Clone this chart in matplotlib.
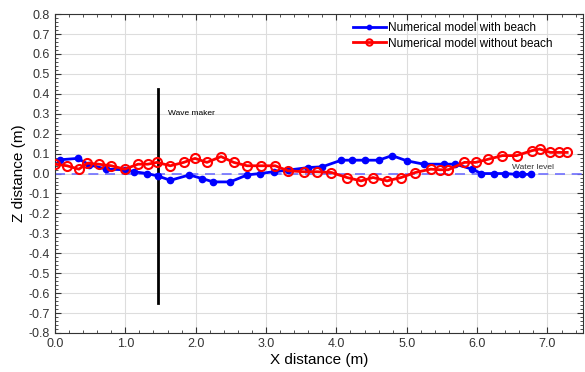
import matplotlib
matplotlib.use("Agg")
import matplotlib.pyplot as plt
from matplotlib.ticker import MultipleLocator, FormatStrFormatter

plt.rcParams['font.family'] = ['Liberation Sans', 'DejaVu Sans']

beach_x = [0.07, 0.32, 0.49, 0.73, 1.0, 1.13, 1.31, 1.46, 1.64, 1.91, 2.09, 2.25, 2.49, 2.73,
           2.91, 3.11, 3.31, 3.6, 3.8, 4.07, 4.22, 4.41, 4.6, 4.79, 5.0, 5.24, 5.53, 5.69,
           5.93, 6.06, 6.24, 6.4, 6.55, 6.64, 6.76]
beach_z = [0.069, 0.076, 0.044, 0.022, 0.019, 0.009, 0.0, -0.012, -0.034, -0.007, -0.025,
           -0.042, -0.042, -0.007, 0.0, 0.009, 0.017, 0.03, 0.034, 0.067, 0.067, 0.067,
           0.067, 0.09, 0.064, 0.047, 0.047, 0.047, 0.022, 0.0, 0.0, 0.0, -0.004, -0.004, -0.004]

nobeach_x = [0.0, 0.17, 0.34, 0.46, 0.62, 0.8, 0.99, 1.18, 1.32, 1.45, 1.64, 1.83, 1.99, 2.16,
             2.36, 2.54, 2.73, 2.93, 3.13, 3.31, 3.54, 3.73, 3.93, 4.15, 4.35, 4.52, 4.72,
             4.92, 5.12, 5.34, 5.47, 5.59, 5.82, 5.98, 6.16, 6.36, 6.56, 6.78, 6.89, 7.04,
             7.17, 7.28]
nobeach_z = [0.047, 0.039, 0.022, 0.052, 0.047, 0.039, 0.022, 0.047, 0.047, 0.056, 0.039,
             0.056, 0.076, 0.056, 0.085, 0.056, 0.039, 0.039, 0.039, 0.014, 0.009, 0.009,
             0.005, -0.02, -0.037, -0.02, -0.037, -0.02, 0.005, 0.022, 0.019, 0.019, 0.056,
             0.056, 0.072, 0.09, 0.09, 0.115, 0.123, 0.106, 0.106, 0.106]

wavemaker_x = 1.46
wavemaker_z = [0.425, -0.65]
water_level = 0.0

fig = plt.figure(figsize=(5.85, 3.72), dpi=100)
ax = fig.add_axes([0.094, 0.105, 0.902, 0.857])

ax.axhline(water_level, color='#6f6fff', linestyle=(0, (6, 4)), linewidth=1.2, zorder=2)
ax.plot([wavemaker_x, wavemaker_x], wavemaker_z, color='black', linewidth=2, zorder=3)
ax.plot(beach_x, beach_z, color='blue', marker='o', markersize=4.5, linewidth=2,
        label='Numerical model with beach', zorder=4)
ax.plot(nobeach_x, nobeach_z, color='red', marker='o', markersize=6.5, markerfacecolor='none',
        markeredgewidth=1.5, linewidth=2, label='Numerical model without beach', zorder=5)

ax.text(1.6, 0.3, 'Wave maker', fontsize=6, ha='left', va='center')
ax.text(6.5, 0.03, 'Water level', fontsize=6, ha='left', va='center', color='#333333')

ax.set_xlim(0, 7.5)
ax.set_ylim(-0.8, 0.8)
ax.xaxis.set_major_locator(MultipleLocator(1.0))
ax.xaxis.set_minor_locator(MultipleLocator(0.2))
ax.yaxis.set_major_locator(MultipleLocator(0.1))
ax.yaxis.set_minor_locator(MultipleLocator(0.02))
ax.xaxis.set_major_formatter(FormatStrFormatter('%.1f'))
ax.yaxis.set_major_formatter(FormatStrFormatter('%.1f'))
ax.tick_params(which='both', direction='in', top=True, right=True, labelsize=9, colors='#333333')
ax.tick_params(which='major', length=4)
ax.tick_params(which='minor', length=2)
ax.grid(True, which='major', color='#dddddd', linewidth=0.8)
for s in ax.spines.values():
    s.set_color('#333333')

ax.set_xlabel('X distance (m)', fontsize=11, labelpad=2)
ax.set_ylabel('Z distance (m)', fontsize=11, labelpad=2)

ax.legend(loc='upper left', bbox_to_anchor=(0.555, 0.99), frameon=False, fontsize=8.5,
          handlelength=2.8, handletextpad=0.2, borderaxespad=0.0, borderpad=0.4,
          labelspacing=0.3, markerscale=0.7)

fig.savefig('out.png', dpi=100)
